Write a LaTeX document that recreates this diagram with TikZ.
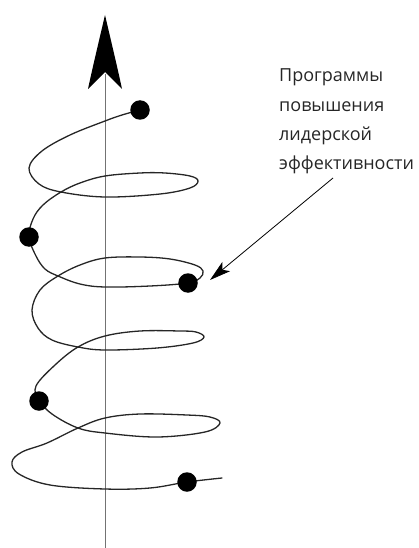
\documentclass[tikz,border=0pt]{standalone}
\usepackage{fontspec}
\setmainfont{Open Sans}
\usetikzlibrary{arrows.meta}
\begin{document}
\begin{tikzpicture}[x=1pt,y=-1pt,
  dot/.style={circle,fill=black,draw=none,minimum size=19.5pt,inner sep=0pt},
  spiral/.style={line width=1.3pt,draw=black!85,line join=round,line cap=round},
  axisline/.style={line width=0.9pt,draw=black!55},
  lbl/.style={anchor=base west,inner sep=0pt,font=\fontsize{18}{21}\selectfont,text=black!85},
  pointer/.style={line width=0.8pt,-{Stealth[length=21pt,width=12pt,inset=5pt]}}]
\useasboundingbox (0,0) rectangle (418,548);
% axis
\coordinate (abot) at (105,548);
\coordinate (atop) at (105,74);
\draw[axisline] (abot) -- (atop);
\fill (105,15) .. controls (98,45) and (92,70) .. (88,89) -- (105,72) -- (122,89) .. controls (118,70) and (112,45) .. (105,15) -- cycle;
% spiral
\draw[spiral] plot[smooth,tension=0.6] coordinates {
(140,110) (122,115) (105,121) (70,135) (42,151) (29,168) (39,184) (61,192)
(105,197) (160,194) (190,188) (198,181) (190,176) (165,173) (140,173) (105,176)
(80,183) (61,192) (43,205) (33,219) (29,237) (36,256) (45,269) (58,276)
(80,284) (105,287) (150,286) (188,283) (200,278) (203,271) (195,265) (170,259)
(140,257) (105,258) (80,265) (58,276) (40,290) (32,310) (38,328) (52,340)
(78,347) (105,350) (157,348) (193,343) (204,337) (196,332) (180,331) (140,331)
(105,336) (78,347) (55,365) (36,386) (39,400) (52,414) (78,428) (105,433)
(157,437) (205,432) (220,423) (210,417) (187,415) (140,414) (105,418) (78,428)
(47,443) (22,452) (12,462) (19,474) (50,485) (105,489) (150,488) (187,482)
(222,478)};
% dots
\node[dot] (d1) at (140,110) {};
\node[dot] (d2) at (29,237) {};
\node[dot] (d3) at (188,283) {};
\node[dot] (d4) at (39,401) {};
\node[dot] (d5) at (187,482) {};
% label
\node[lbl] (l1) at (279,82) {Программы};
\node[lbl] (l2) at (279,112) {повышения};
\node[lbl] (l3) at (279,141) {лидерской};
\node[lbl] (l4) at (279,170) {эффективности};
\coordinate (pstart) at (333,178);
\coordinate (ptip) at (210,280);
\draw[pointer] (pstart) -- (ptip);
\end{tikzpicture}
\end{document}
